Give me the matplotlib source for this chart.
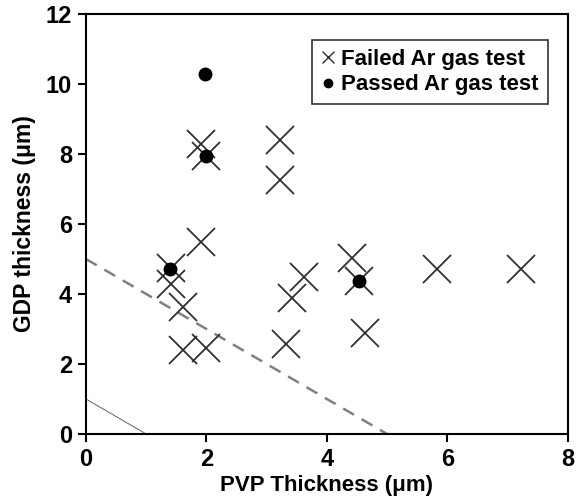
import matplotlib
matplotlib.use("Agg")
import matplotlib.pyplot as plt
from matplotlib.lines import Line2D
from matplotlib import font_manager

names = {f.name for f in font_manager.fontManager.ttflist}
fam = "Liberation Sans Narrow" if "Liberation Sans Narrow" in names else "Liberation Sans"
plt.rcParams['font.family'] = [fam, 'DejaVu Sans']

failed_x = [1.91, 2.00, 3.22, 3.22, 1.91, 1.42, 1.42, 1.61, 4.42, 4.53, 3.62, 3.42, 1.61, 1.99, 3.32, 4.63, 5.83, 7.23]
failed_y = [8.29, 7.93, 8.41, 7.27, 5.49, 4.74, 4.29, 3.62, 5.02, 4.38, 4.50, 3.89, 2.40, 2.46, 2.57, 2.88, 4.71, 4.71]
passed_x = [1.98, 1.99, 1.39, 4.53]
passed_y = [10.28, 7.95, 4.72, 4.38]
dashed_x = [0, 5]
dashed_y = [5, 0]
thin_x = [0, 1]
thin_y = [1, 0]

fig = plt.figure(figsize=(5.77, 5.0), dpi=100)
ax = fig.add_axes([0.149, 0.132, 0.835, 0.840])

ax.plot(dashed_x, dashed_y, color='#808080', lw=1.8, ls=(0, (5, 3.5)), zorder=1)
ax.plot(thin_x, thin_y, color='#606060', lw=0.7, zorder=1)
ax.plot(failed_x, failed_y, ls='none', marker='x', ms=20, mew=1.3, color='#303030', zorder=2)
ax.plot(passed_x, passed_y, ls='none', marker='o', ms=9, color='black', zorder=3)

ax.set_xlim(0, 8)
ax.set_ylim(0, 12)
ax.set_xticks([0, 2, 4, 6, 8])
ax.set_yticks([0, 2, 4, 6, 8, 10, 12])
ax.tick_params(direction='out', length=6, width=1.5, labelsize=17, pad=4)
for lab in ax.get_xticklabels() + ax.get_yticklabels():
    lab.set_fontweight('bold')
for s in ax.spines.values():
    s.set_linewidth(1.5)

ax.set_xlabel('PVP Thickness (μm)', fontsize=16, fontweight='bold', labelpad=3)
ax.set_ylabel('GDP thickness (μm)', fontsize=16.5, fontweight='bold', labelpad=7)

handles = [Line2D([], [], ls='none', marker='x', ms=8, mew=1.0, color='#303030'),
           Line2D([], [], ls='none', marker='o', ms=6, color='black')]
leg = ax.legend(handles, ['Failed Ar gas test', 'Passed Ar gas test'],
                loc='upper right', bbox_to_anchor=(0.958, 0.938), borderaxespad=0,
                fancybox=False, edgecolor='#333333', framealpha=1,
                prop={'weight': 'bold', 'size': 16}, handlelength=0.6,
                handletextpad=0.3, borderpad=0.4, labelspacing=0.2)
leg.get_frame().set_linewidth(1.2)

fig.savefig('out.png', dpi=100)
